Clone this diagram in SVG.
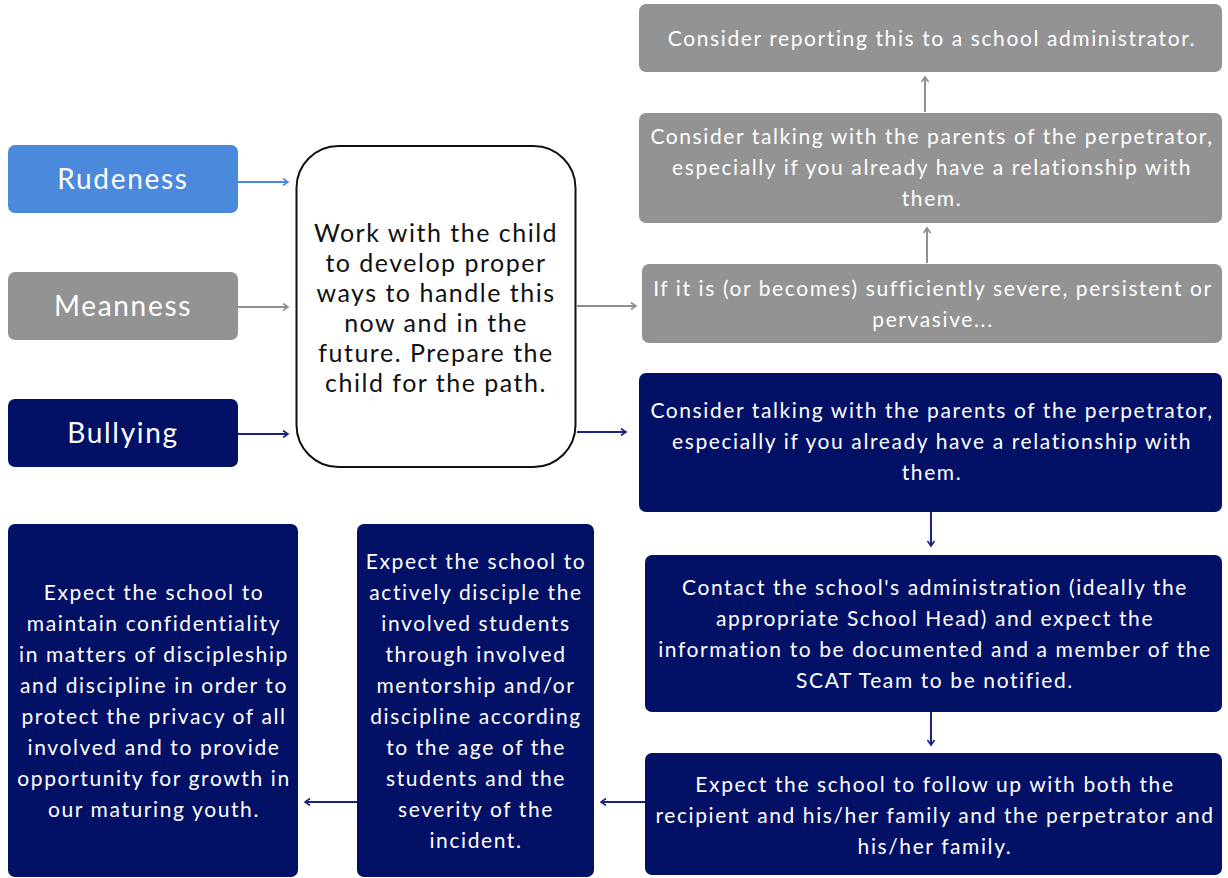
<svg xmlns="http://www.w3.org/2000/svg" width="1228" height="878" viewBox="0 0 1228 878">
<defs>
<style>
.t{font-family:Lato,"Open Sans","Liberation Sans",sans-serif;fill:#fff;text-anchor:middle;font-size:21px;letter-spacing:1.6px}
.big{font-size:28px;letter-spacing:1.7px}
.ctr{font-family:Lato,"Open Sans","Liberation Sans",sans-serif;fill:#111;text-anchor:middle;font-size:25px;letter-spacing:1.5px}
.blue{fill:#4a89dc}
.gray{fill:#939393}
.navy{fill:#021066}
.c{fill:none;stroke-width:2}
.cb{stroke:#4a89dc}
.cg{stroke:#8e8e8e}
.cn{stroke:#1a237e}
</style>
<marker id="mb" markerWidth="8" markerHeight="8" refX="6" refY="4" orient="auto" markerUnits="userSpaceOnUse"><path d="M1,0.5 L6,4 L1,7.5" fill="none" stroke="#4a89dc" stroke-width="1.6"/></marker>
<marker id="mg" markerWidth="8" markerHeight="8" refX="6" refY="4" orient="auto" markerUnits="userSpaceOnUse"><path d="M1,0.5 L6,4 L1,7.5" fill="none" stroke="#8e8e8e" stroke-width="1.6"/></marker>
<marker id="mn" markerWidth="8" markerHeight="8" refX="6" refY="4" orient="auto" markerUnits="userSpaceOnUse"><path d="M1,0.5 L6,4 L1,7.5" fill="none" stroke="#1a237e" stroke-width="1.6"/></marker>
</defs>
<rect width="1228" height="878" fill="#fff"/>

<g id="connectors">
<path class="c cb" d="M238,182 H288" marker-end="url(#mb)"/>
<path class="c cg" d="M238,307 H288" marker-end="url(#mg)"/>
<path class="c cn" d="M238,434 H288" marker-end="url(#mn)"/>
<path class="c cg" d="M577,306 H636" marker-end="url(#mg)"/>
<path class="c cn" d="M577,432 H626" marker-end="url(#mn)"/>
<path class="c cg" d="M927,263 V228" marker-end="url(#mg)"/>
<path class="c cg" d="M925,112 V77" marker-end="url(#mg)"/>
<path class="c cn" d="M931,512 V546" marker-end="url(#mn)"/>
<path class="c cn" d="M931,712 V745" marker-end="url(#mn)"/>
<path class="c cn" d="M645,802 H601" marker-end="url(#mn)"/>
<path class="c cn" d="M357,802 H305" marker-end="url(#mn)"/>
</g>

<g id="rudeness">
<rect class="blue" x="8" y="145" width="230" height="68" rx="7"/>
<text class="t big" x="123" y="189">Rudeness</text>
</g>
<g id="meanness">
<rect class="gray" x="8" y="272" width="230" height="68" rx="7"/>
<text class="t big" x="123" y="316">Meanness</text>
</g>
<g id="bullying">
<rect class="navy" x="8" y="399" width="230" height="68" rx="7"/>
<text class="t big" x="123" y="443">Bullying</text>
</g>

<g id="work-with-child">
<rect x="296.5" y="146" width="279" height="321" rx="42" fill="#fff" stroke="#111" stroke-width="2"/>
<text class="ctr" x="436" y="242">Work with the child</text>
<text class="ctr" x="436" y="272">to develop proper</text>
<text class="ctr" x="436" y="302">ways to handle this</text>
<text class="ctr" x="436" y="332">now and in the</text>
<text class="ctr" x="436" y="362">future. Prepare the</text>
<text class="ctr" x="436" y="392">child for the path.</text>
</g>

<g id="report-admin">
<rect class="gray" x="639" y="4" width="583" height="68" rx="7"/>
<text class="t" x="932" y="46">Consider reporting this to a school administrator.</text>
</g>
<g id="talk-parents-gray">
<rect class="gray" x="639" y="113" width="583" height="110" rx="7"/>
<text class="t" x="932" y="144">Consider talking with the parents of the perpetrator,</text>
<text class="t" x="932" y="175">especially if you already have a relationship with</text>
<text class="t" x="932" y="206">them.</text>
</g>
<g id="if-severe">
<rect class="gray" x="642" y="264" width="580" height="79" rx="7"/>
<text class="t" x="933" y="296">If it is (or becomes) sufficiently severe, persistent or</text>
<text class="t" x="933" y="327">pervasive...</text>
</g>

<g id="talk-parents-navy">
<rect class="navy" x="639" y="373" width="583" height="139" rx="7"/>
<text class="t" x="932" y="418">Consider talking with the parents of the perpetrator,</text>
<text class="t" x="932" y="449">especially if you already have a relationship with</text>
<text class="t" x="932" y="480">them.</text>
</g>
<g id="contact-admin">
<rect class="navy" x="645" y="555" width="577" height="157" rx="7"/>
<text class="t" x="935" y="595">Contact the school's administration (ideally the</text>
<text class="t" x="935" y="626">appropriate School Head) and expect the</text>
<text class="t" x="935" y="657">information to be documented and a member of the</text>
<text class="t" x="935" y="688">SCAT Team to be notified.</text>
</g>
<g id="follow-up">
<rect class="navy" x="645" y="753" width="577" height="122" rx="7"/>
<text class="t" x="935" y="792">Expect the school to follow up with both the</text>
<text class="t" x="935" y="823">recipient and his/her family and the perpetrator and</text>
<text class="t" x="935" y="854">his/her family.</text>
</g>

<g id="disciple">
<rect class="navy" x="357" y="524" width="237" height="353" rx="7"/>
<text class="t" x="476" y="569">Expect the school to</text>
<text class="t" x="476" y="600">actively disciple the</text>
<text class="t" x="476" y="631">involved students</text>
<text class="t" x="476" y="662">through involved</text>
<text class="t" x="476" y="693">mentorship and/or</text>
<text class="t" x="476" y="724">discipline according</text>
<text class="t" x="476" y="755">to the age of the</text>
<text class="t" x="476" y="786">students and the</text>
<text class="t" x="476" y="817">severity of the</text>
<text class="t" x="476" y="848">incident.</text>
</g>
<g id="confidentiality">
<rect class="navy" x="8" y="524" width="290" height="353" rx="7"/>
<text class="t" x="154" y="600">Expect the school to</text>
<text class="t" x="154" y="631">maintain confidentiality</text>
<text class="t" x="154" y="662">in matters of discipleship</text>
<text class="t" x="154" y="693">and discipline in order to</text>
<text class="t" x="154" y="724">protect the privacy of all</text>
<text class="t" x="154" y="755">involved and to provide</text>
<text class="t" x="154" y="786">opportunity for growth in</text>
<text class="t" x="154" y="817">our maturing youth.</text>
</g>
</svg>
